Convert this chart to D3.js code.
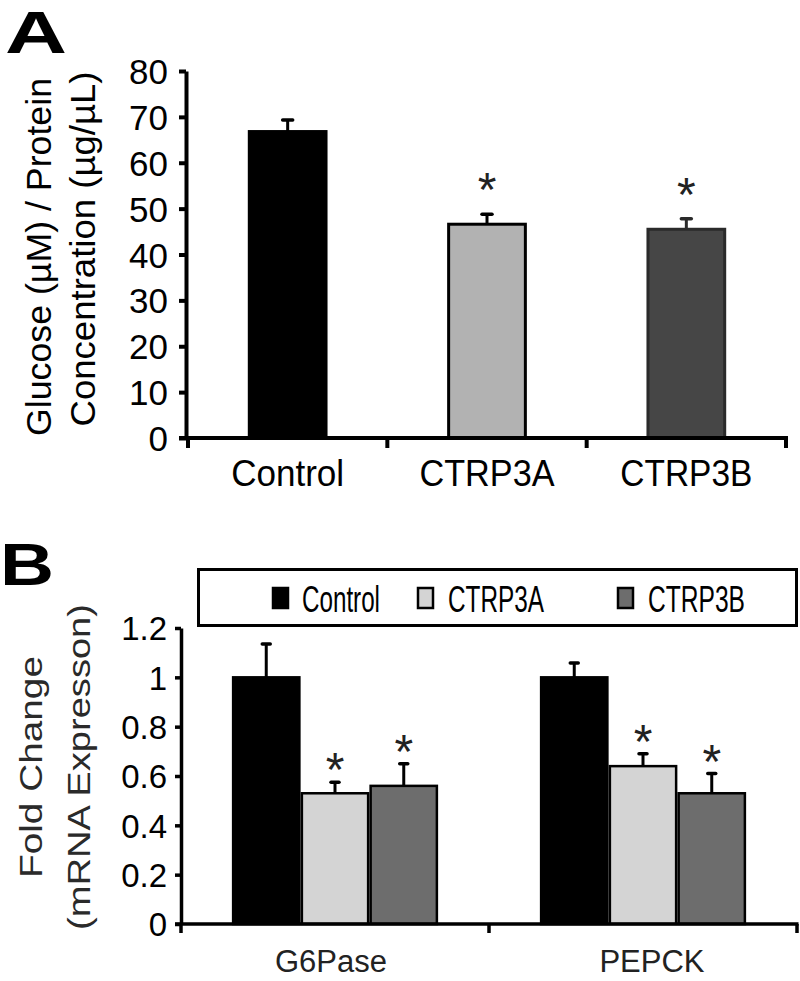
<!DOCTYPE html>
<html><head><meta charset="utf-8">
<script src="https://cdn.jsdelivr.net/npm/d3@7"></script>
<style>
html,body{margin:0;padding:0;background:#fff;}
svg{display:block;}
text{font-family:"Liberation Sans",Arial,Helvetica,sans-serif;}
</style></head>
<body>
<script>
// ---------- Panel A data ----------
const catsA = ["Control", "CTRP3A", "CTRP3B"];
const meanA = [66.8, 46.6, 45.5];
const errA = [2.5, 2.2, 2.3];
const sigA = [false, true, true];
const ticksA = [0, 10, 20, 30, 40, 50, 60, 70, 80];
const titleA = ["Glucose (µM) / Protein", "Concentration (µg/µL)"];

// ---------- Panel B data ----------
const genes = ["G6Pase", "PEPCK"];
const groups = ["Control", "CTRP3A", "CTRP3B"];
const meanG6Pase = [1.0, 0.53, 0.56];
const errG6Pase = [0.135, 0.045, 0.09];
const sigG6Pase = [false, true, true];
const meanPEPCK = [1.0, 0.64, 0.53];
const errPEPCK = [0.058, 0.05, 0.08];
const sigPEPCK = [false, true, true];
const ticksB = [0, 0.2, 0.4, 0.6, 0.8, 1, 1.2];
const titleB = ["Fold Change", "(mRNA Expresson)"];

const W = 800, H = 981;
const svg = d3.select("body").append("svg").attr("width", W).attr("height", H);

// ================= PANEL A =================
const colA = {Control: "#000000", CTRP3A: "#b2b2b2", CTRP3B: "#464646"};
const strokeA = {Control: "#000000", CTRP3A: "#000000", CTRP3B: "#2a2a2a"};
const axA = 186;
const xA = d3.scaleBand().domain(catsA).range([axA + 2, 786]).paddingInner(0.6).paddingOuter(0.3);
const yA = d3.scaleLinear().domain([0, 80]).range([438, 71]);
const gA = svg.append("g");

svg.append("text").attr("x", 5).attr("y", 53).attr("font-size", 60).attr("font-weight", "bold")
  .attr("textLength", 62).attr("lengthAdjust", "spacingAndGlyphs").text("A");

// bars
const dA = catsA.map((c, i) => ({c, v: meanA[i], e: errA[i], s: sigA[i]}));
gA.selectAll("rect.bar").data(dA).join("rect").attr("class", "bar")
  .attr("x", d => xA(d.c) + 1.5).attr("width", xA.bandwidth() - 3)
  .attr("y", d => yA(d.v)).attr("height", d => yA(0) - yA(d.v))
  .attr("fill", d => colA[d.c]).attr("stroke", d => strokeA[d.c]).attr("stroke-width", 3);
// error bars
gA.selectAll("line.err").data(dA).join("line").attr("class", "err")
  .attr("x1", d => xA(d.c) + xA.bandwidth() / 2).attr("x2", d => xA(d.c) + xA.bandwidth() / 2)
  .attr("y1", d => yA(d.v)).attr("y2", d => yA(d.v + d.e)).attr("stroke", d => strokeA[d.c]).attr("stroke-width", 3);
gA.selectAll("line.cap").data(dA).join("line").attr("class", "cap")
  .attr("x1", d => xA(d.c) + xA.bandwidth() / 2 - 5).attr("x2", d => xA(d.c) + xA.bandwidth() / 2 + 5)
  .attr("y1", d => yA(d.v + d.e)).attr("y2", d => yA(d.v + d.e)).attr("stroke", d => strokeA[d.c]).attr("stroke-width", 3.5).attr("stroke-linecap", "round");
// stars
gA.selectAll("text.star").data(dA.filter(d => d.s)).join("text").attr("class", "star")
  .attr("x", d => xA(d.c) + xA.bandwidth() / 2).attr("y", d => yA(d.v + d.e) - 8)
  .attr("text-anchor", "middle").attr("font-size", 48).attr("fill", "#222").text("*");

// y axis
const yAxisA = d3.axisLeft(yA).tickValues(ticksA).tickSize(7).tickSizeOuter(0).tickPadding(11);
const gyA = gA.append("g").attr("transform", `translate(${axA},0)`).call(yAxisA);
gyA.select(".domain").attr("stroke-width", 4).attr("stroke", "#000");
gyA.selectAll(".tick line").attr("stroke-width", 4);
gyA.selectAll(".tick text").attr("font-size", 35).attr("fill", "#000").attr("font-family", "Liberation Sans, Arial, sans-serif").attr("dy", "0.36em");
// x axis
const bndA = d3.range(catsA.length + 1).map(i => xA.range()[0] + i * xA.step());
gA.append("line").attr("x1", axA - 7).attr("x2", bndA[bndA.length - 1] + 2).attr("y1", yA(0)).attr("y2", yA(0))
  .attr("stroke", "#000").attr("stroke-width", 4);
gA.selectAll("line.xt").data(bndA).join("line").attr("class", "xt")
  .attr("x1", d => d).attr("x2", d => d).attr("y1", yA(0)).attr("y2", yA(0) + 10)
  .attr("stroke", "#000").attr("stroke-width", 4);
const xlLenA = [113, 135, 132];
gA.selectAll("text.xl").data(catsA).join("text").attr("class", "xl")
  .attr("x", d => xA(d) + xA.bandwidth() / 2).attr("y", 486).attr("text-anchor", "middle")
  .attr("font-size", 37).attr("textLength", (d, i) => xlLenA[i]).attr("lengthAdjust", "spacingAndGlyphs").text(d => d);
// y title
const tA = [{t: titleA[0], x: 51, len: 358, cy: 257}, {t: titleA[1], x: 95, len: 355, cy: 249}];
gA.selectAll("text.yt").data(tA).join("text").attr("class", "yt")
  .attr("transform", d => `translate(${d.x},${d.cy}) rotate(-90)`).attr("text-anchor", "middle")
  .attr("font-size", 35).attr("textLength", d => d.len).attr("lengthAdjust", "spacingAndGlyphs").text(d => d.t);

// ================= PANEL B =================
const colB = {Control: "#000000", CTRP3A: "#d4d4d4", CTRP3B: "#6d6d6d"};
const axB = 181;
const yB = d3.scaleLinear().domain([0, 1.2]).range([924, 628]);
const x0 = d3.scaleBand().domain(genes).range([axB, 797]).padding(0);
const x1 = d3.scaleBand().domain(groups).range([0, x0.bandwidth()]).paddingInner(0).paddingOuter(0.74);
const gB = svg.append("g");

svg.append("text").attr("x", 0).attr("y", 585).attr("font-size", 60).attr("font-weight", "bold")
  .attr("textLength", 54).attr("lengthAdjust", "spacingAndGlyphs").text("B");

const dB = [];
genes.forEach(g => {
  const m = g === "G6Pase" ? meanG6Pase : meanPEPCK;
  const e = g === "G6Pase" ? errG6Pase : errPEPCK;
  const s = g === "G6Pase" ? sigG6Pase : sigPEPCK;
  groups.forEach((gr, i) => dB.push({g, gr, v: m[i], e: e[i], s: s[i]}));
});
const cx = d => x0(d.g) + x1(d.gr) + x1.bandwidth() / 2;
gB.selectAll("rect.bar").data(dB).join("rect").attr("class", "bar")
  .attr("x", d => x0(d.g) + x1(d.gr) + 1.25).attr("width", x1.bandwidth() - 2.5)
  .attr("y", d => yB(d.v)).attr("height", d => yB(0) - yB(d.v))
  .attr("fill", d => colB[d.gr]).attr("stroke", "#000").attr("stroke-width", 2.5);
gB.selectAll("line.err").data(dB).join("line").attr("class", "err")
  .attr("x1", cx).attr("x2", cx).attr("y1", d => yB(d.v)).attr("y2", d => yB(d.v + d.e))
  .attr("stroke", "#000").attr("stroke-width", 3);
gB.selectAll("line.cap").data(dB).join("line").attr("class", "cap")
  .attr("x1", d => cx(d) - 4).attr("x2", d => cx(d) + 4).attr("y1", d => yB(d.v + d.e)).attr("y2", d => yB(d.v + d.e))
  .attr("stroke", "#000").attr("stroke-width", 3.5).attr("stroke-linecap", "round");
gB.selectAll("text.star").data(dB.filter(d => d.s)).join("text").attr("class", "star")
  .attr("x", cx).attr("y", d => yB(d.v + d.e) + 4)
  .attr("text-anchor", "middle").attr("font-size", 48).attr("fill", "#222").text("*");

const yAxisB = d3.axisLeft(yB).tickValues(ticksB).tickSize(6).tickSizeOuter(0).tickPadding(8).tickFormat(d3.format("~g"));
const gyB = gB.append("g").attr("transform", `translate(${axB},0)`).call(yAxisB);
gyB.select(".domain").attr("stroke-width", 3.5).attr("stroke", "#000");
gyB.selectAll(".tick line").attr("stroke-width", 3.5);
gyB.selectAll(".tick text").attr("font-size", 33).attr("fill", "#000").attr("font-family", "Liberation Sans, Arial, sans-serif").attr("dy", "0.36em");
const bndB = d3.range(genes.length + 1).map(i => x0.range()[0] + i * x0.step());
gB.append("line").attr("x1", axB - 6).attr("x2", bndB[bndB.length - 1] + 1.5).attr("y1", yB(0)).attr("y2", yB(0))
  .attr("stroke", "#000").attr("stroke-width", 3.5);
gB.selectAll("line.xt").data(bndB).join("line").attr("class", "xt")
  .attr("x1", d => d).attr("x2", d => d).attr("y1", yB(0)).attr("y2", yB(0) + 9)
  .attr("stroke", "#000").attr("stroke-width", 3.5);
const xlOffB = [-4, 9];
gB.selectAll("text.xl").data(genes).join("text").attr("class", "xl")
  .attr("x", (d, i) => x0(d) + x0.bandwidth() / 2 + xlOffB[i]).attr("y", 972).attr("text-anchor", "middle")
  .attr("font-size", 31).attr("fill", "#222").text(d => d);
const tB = [{t: titleB[0], x: 42, len: 222, cy: 767}, {t: titleB[1], x: 90, len: 326, cy: 767}];
gB.selectAll("text.yt").data(tB).join("text").attr("class", "yt")
  .attr("transform", d => `translate(${d.x},${d.cy}) rotate(-90)`).attr("text-anchor", "middle")
  .attr("font-size", 31).attr("fill", "#2a2a2a").attr("textLength", d => d.len).attr("lengthAdjust", "spacingAndGlyphs").text(d => d.t);

// legend
const lg = gB.append("g");
lg.append("rect").attr("x", 198.5).attr("y", 569.5).attr("width", 598).attr("height", 56)
  .attr("fill", "#fff").attr("stroke", "#000").attr("stroke-width", 3);
const legItems = groups.map((gr, i) => ({gr, sx: [273, 418, 618][i], tx: [302, 448, 648][i], tl: [78, 96, 97][i]}));
lg.selectAll("rect.sw").data(legItems).join("rect").attr("class", "sw")
  .attr("x", d => d.sx).attr("y", 588).attr("width", 15).attr("height", 20)
  .attr("fill", d => colB[d.gr]).attr("stroke", "#000").attr("stroke-width", 2.5);
lg.selectAll("text.lt").data(legItems).join("text").attr("class", "lt")
  .attr("x", d => d.tx).attr("y", 612).attr("font-size", 37)
  .attr("font-family", "Liberation Sans Narrow, Liberation Sans, Arial, sans-serif")
  .attr("textLength", d => d.tl).attr("lengthAdjust", "spacingAndGlyphs").text(d => d.gr);
</script>
</body></html>
